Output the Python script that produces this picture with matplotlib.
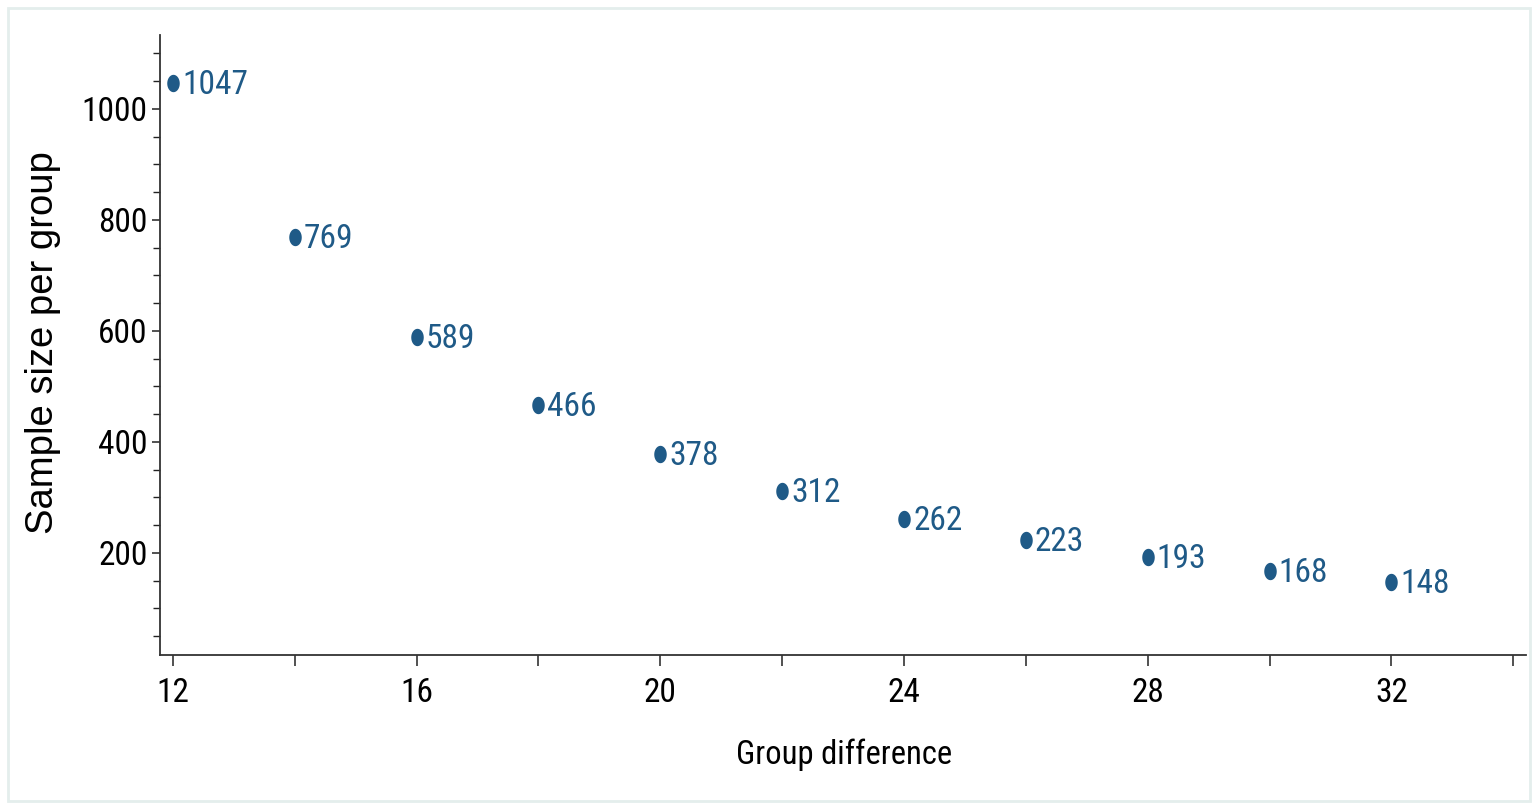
import matplotlib
matplotlib.use("Agg")
import numpy as np
import matplotlib.pyplot as plt
from matplotlib.ticker import FixedLocator
from matplotlib.patches import Rectangle
from matplotlib.path import Path
from matplotlib import font_manager

group_diff = [12, 14, 16, 18, 20, 22, 24, 26, 28, 30, 32]
sample_size = [1047, 769, 589, 466, 378, 312, 262, 223, 193, 168, 148]
x_ticks = [12, 16, 20, 24, 28, 32]
x_minor = [14, 18, 22, 26, 30, 34]
y_ticks = [200, 400, 600, 800, 1000]
y_minor = [50, 100, 150, 250, 300, 350, 450, 500, 550, 650, 700, 750, 850, 900, 950, 1050, 1100]

names = {f.name for f in font_manager.fontManager.ttflist}
def pick(cands):
    for c in cands:
        if c in names:
            return c
    return 'DejaVu Sans'
narrow = pick(['Liberation Sans Narrow', 'Arial Narrow', 'Roboto Condensed', 'Pragati Narrow',
               'IBM Plex Sans Condensed', 'Archivo Narrow', 'PT Sans Narrow'])
regular = pick(['Liberation Sans', 'Arimo', 'Arial'])

col = '#1f5a87'
fig = plt.figure(figsize=(15.38, 8.07), dpi=100)
fig.patches.append(Rectangle((0.0052, 0.0075), 0.9896, 0.9825, transform=fig.transFigure,
                             fill=False, edgecolor='#e4eeec', linewidth=2))
ax = fig.add_axes([0.104, 0.1884, 0.8882, 0.7682])

# slightly tall elliptical marker, like the reference
t = np.linspace(0, 2 * np.pi, 60)
ell = Path(np.column_stack([0.72 * np.cos(t), np.sin(t)]), closed=True)
ax.plot(group_diff, sample_size, linestyle='none', marker=ell, ms=12.5,
        color=col, mec=col, mew=0, zorder=3)
for x, y in zip(group_diff, sample_size):
    ax.annotate(str(y), (x, y), xytext=(6.5, -1.5), textcoords='offset points',
                ha='left', va='center', color=col, fontsize=24, family=narrow)

ax.set_xlim(11.787, 34.21)
ax.set_ylim(16.2, 1133)
ax.xaxis.set_major_locator(FixedLocator(x_ticks))
ax.xaxis.set_minor_locator(FixedLocator(x_minor))
ax.yaxis.set_major_locator(FixedLocator(y_ticks))
ax.yaxis.set_minor_locator(FixedLocator(y_minor))
ax.tick_params(axis='x', which='both', direction='out', length=8, width=1.1, color='#222222')
ax.tick_params(axis='y', which='major', direction='out', length=6, width=1.1, color='#222222')
ax.tick_params(axis='y', which='minor', direction='out', length=5, width=1.0, color='#222222')
ax.tick_params(axis='x', which='major', labelsize=24, pad=8)
ax.tick_params(axis='y', which='major', labelsize=24, pad=3)
for lab in ax.get_xticklabels() + ax.get_yticklabels():
    lab.set_family(narrow)
ax.spines['top'].set_visible(False)
ax.spines['right'].set_visible(False)
for s in ('left', 'bottom'):
    ax.spines[s].set_linewidth(1.3)
    ax.spines[s].set_color('#333333')

fig.text(844 / 1538, 1 - 755 / 807, 'Group difference', fontsize=23.5, family=narrow,
         ha='center', va='center')
fig.text(43 / 1538, 1 - 343 / 807, 'Sample size per group', fontsize=27.5, family=regular,
         ha='center', va='center', rotation=90)

fig.savefig('out.png', dpi=100)
